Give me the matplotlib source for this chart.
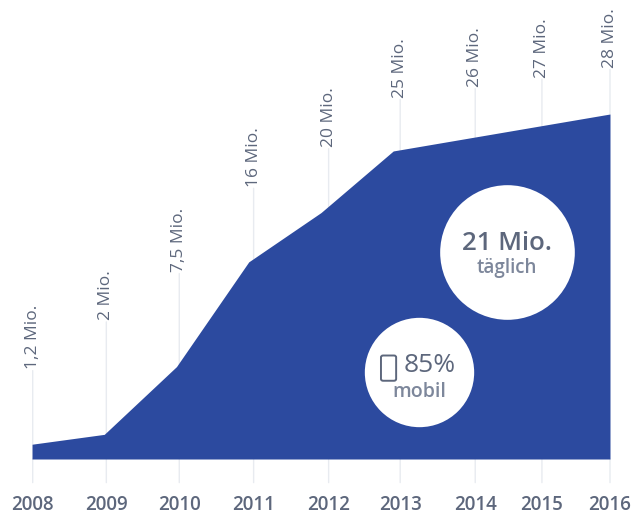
import matplotlib
matplotlib.use('Agg')
import matplotlib.pyplot as plt
from matplotlib.patches import FancyBboxPatch
from matplotlib.transforms import offset_copy

plt.rcParams['font.family'] = ['Open Sans', 'DejaVu Sans']

years = [2008, 2009, 2010, 2011, 2012, 2013, 2014, 2015, 2016]
users = [1.2, 2, 7.5, 16, 20, 25, 26, 27, 28]
labels = ['1,2 Mio.', '2 Mio.', '7,5 Mio.', '16 Mio.', '20 Mio.',
          '25 Mio.', '26 Mio.', '27 Mio.', '28 Mio.']

# Abstand Flaeche -> Beschriftung in Punkten
gap = [53, 81, 67, 53, 46, 37, 36, 34, 32]
# seitlicher Versatz der Linien und Texte in Punkten
shift = [0.5, 1.5, 2, 3.5, 5.5, 5, 7, 3, 0]

BLUE = '#2c4a9f'
GREY = '#5d677c'
SOFT = '#7d879b'
LINE = '#e8ebf0'

fig = plt.figure(figsize=(6.33, 5.15), dpi=100)
ax = fig.add_axes([32/633, 56/515, 578/633, 345/515])
ax.set_xlim(2008, 2016)
ax.set_ylim(0, 28)
ax.axis('off')

ax.fill_between(years, users, 0, color=BLUE, lw=0, zorder=2)

for x, y, lab, g, dx in zip(years, users, labels, gap, shift):
    moved = offset_copy(ax.transData, fig=fig, x=dx, y=0, units='points')
    # Linie nach oben bis zum Text
    ax.annotate('', xy=(x, y), xycoords=moved, xytext=(0, g), textcoords='offset points',
                arrowprops=dict(arrowstyle='-', color=LINE, lw=1, shrinkA=0, shrinkB=0),
                annotation_clip=False, zorder=1)
    ax.annotate(lab, xy=(x, y), xycoords=moved, xytext=(0, g + 1), textcoords='offset points',
                rotation=90, ha='center', va='bottom', fontsize=12.5,
                color=GREY, fontweight='medium', annotation_clip=False)
    # Strich unter der Flaeche und Jahreszahl
    ax.annotate('', xy=(x, 0), xycoords=moved, xytext=(0, -17), textcoords='offset points',
                arrowprops=dict(arrowstyle='-', color=LINE, lw=1, shrinkA=0, shrinkB=0),
                annotation_clip=False, zorder=1)
    ax.annotate(str(x), xy=(x, 0), xycoords=moved, xytext=(0, -26), textcoords='offset points',
                ha='center', va='top', fontsize=13.5, color=GREY,
                fontweight='semibold', annotation_clip=False)

# die beiden weissen Kreise
ax.scatter([2014.57], [16.8], s=9400, color='white', lw=0, zorder=3)
ax.scatter([2013.36], [7.06], s=6200, color='white', lw=0, zorder=3)

ax.text(2014.57, 17.5, '21 Mio.', ha='center', va='center', fontsize=18.5,
        color=GREY, fontweight='semibold', zorder=4)
ax.text(2014.57, 15.5, 'täglich', ha='center', va='center', fontsize=13.5,
        color=SOFT, fontweight='semibold', zorder=4)
ax.text(2013.5, 7.6, '85%', ha='center', va='center', fontsize=19,
        color=GREY, zorder=4)
ax.text(2013.36, 5.44, 'mobil', ha='center', va='center', fontsize=14,
        color=SOFT, fontweight='semibold', zorder=4)

# Handy-Symbol
phone = FancyBboxPatch((2012.85, 6.45), 0.17, 1.85, boxstyle='round,pad=0.02,rounding_size=0.03',
                       mutation_aspect=5, fc='none', ec=GREY, lw=1.4, zorder=4)
ax.add_patch(phone)

plt.savefig('out.png', dpi=100)
